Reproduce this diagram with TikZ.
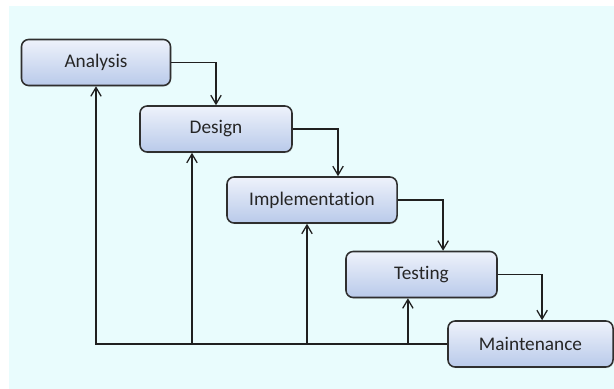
\documentclass[tikz,border=0pt]{standalone}
\usepackage{fontspec}
\setmainfont{Carlito}[Ligatures={NoCommon}]
\definecolor{PaperBg}{HTML}{E9FCFD}
\definecolor{StageTop}{HTML}{EEF2FB}
\definecolor{StageBottom}{HTML}{B9CAEA}
\definecolor{StageEdge}{HTML}{2F2F2F}
\definecolor{FlowLine}{HTML}{202020}
\usetikzlibrary{arrows.meta, shadows}

\tikzset{
  stage/.style={draw=StageEdge, line width=1.1pt, rounded corners=1.8mm,
    top color=StageTop, bottom color=StageBottom,
    minimum height=1.15cm, inner sep=0pt, text=black!85,
    font=\fontsize{13.7}{16}\selectfont,
    drop shadow={shadow xshift=0.6pt, shadow yshift=-0.8pt, opacity=0.25}},
  flow/.style={draw=FlowLine, line width=0.9pt,
    -{Straight Barb[length=2.2mm,width=2.6mm,line width=0.9pt]}}
}

\begin{document}
\begin{tikzpicture}[x=0.025cm, y=-0.025cm]

\useasboundingbox (0,0) rectangle (614,389);
\fill[PaperBg] (9,6) rectangle (614,389);

\node[stage, minimum width=3.725cm] (analysis) at (96,62.5) {Analysis};
\node[stage, minimum width=3.8cm] (design) at (216,129) {Design};
\node[stage, minimum width=4.25cm] (impl) at (312,200) {Implementation};
\node[stage, minimum width=3.775cm] (testing) at (421.5,274.5) {Testing};
\node[stage, minimum width=4.125cm] (maint) at (530.5,344) {Maintenance};

% steps down the cascade
\draw[flow] (analysis.east) -| (design.north);
\draw[flow] (design.east) -| ([xshift=0.65cm]impl.north);
\draw[flow] (impl.east) -| ([xshift=0.54cm]testing.north);
\draw[flow] (testing.east) -| ([xshift=0.29cm]maint.north);

% feedback back to every earlier stage
\draw[flow] (maint.west) -| (analysis.south);
\draw[flow] ([xshift=-0.6cm]design.south |- maint.west) -- ([xshift=-0.6cm]design.south);
\draw[flow] ([xshift=-0.125cm]impl.south |- maint.west) -- ([xshift=-0.125cm]impl.south);
\draw[flow] ([xshift=-0.34cm]testing.south |- maint.west) -- ([xshift=-0.34cm]testing.south);

\end{tikzpicture}
\end{document}
